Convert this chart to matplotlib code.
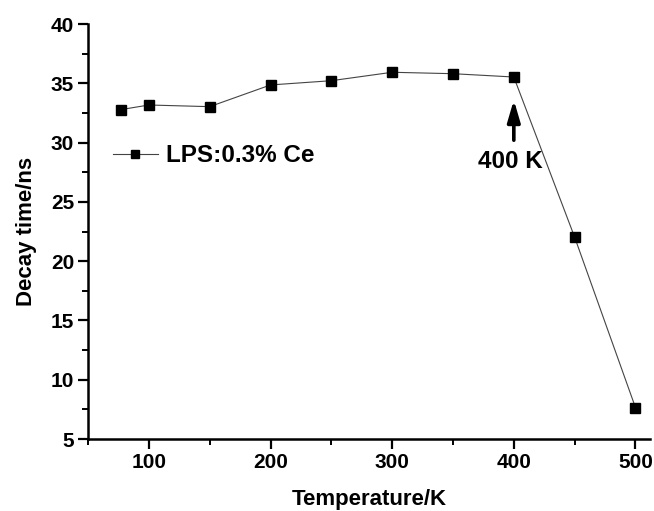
#decay time vs temperature for LPS:Ce
import numpy as np
import matplotlib.pyplot as plt
from matplotlib.ticker import MultipleLocator

plt.rcParams['font.family'] = ['Liberation Sans', 'DejaVu Sans']
plt.rcParams['font.weight'] = 'bold'

temp = [77, 100, 150, 200, 250, 300, 350, 400, 450, 500]  # K
decay = [32.78, 33.17, 33.03, 34.86, 35.22, 35.93, 35.81, 35.53, 22.02, 7.65]  # ns
label = 'LPS:0.3% Ce'
note = '400 K'

fig = plt.figure(figsize=(6.54, 5.11), dpi=100)
ax = fig.add_axes([0.1346, 0.1409, 0.8594, 0.8121])

ax.plot(temp, decay, color='#444444', linewidth=0.8, marker='s', markersize=7,
        markerfacecolor='black', markeredgecolor='black', label=label)

ax.set_xlim(50, 512)
ax.set_ylim(5, 40)
ax.xaxis.set_major_locator(MultipleLocator(100))
ax.xaxis.set_minor_locator(MultipleLocator(50))
ax.yaxis.set_major_locator(MultipleLocator(5))
ax.yaxis.set_minor_locator(MultipleLocator(2.5))

for s in ['top', 'right']:
    ax.spines[s].set_visible(False)
for s in ['left', 'bottom']:
    ax.spines[s].set_linewidth(1.8)

ax.tick_params(which='major', direction='out', length=7, width=1.6, labelsize=15, pad=3)
ax.tick_params(which='minor', direction='out', length=4, width=1.4)
for t in ax.get_xticklabels() + ax.get_yticklabels():
    t.set_fontweight('bold')

ax.set_xlabel('Temperature/K', fontsize=16, fontweight='bold', labelpad=12)
ax.set_ylabel('Decay time/ns', fontsize=16, fontweight='bold', labelpad=10)

# arrow pointing at the 400 K point
ax.annotate('', xy=(400, 33.6), xytext=(400, 30.2),
            arrowprops=dict(arrowstyle='-|>,head_width=0.38,head_length=1.3',
                            color='black', lw=2.6, shrinkA=0, shrinkB=0))
ax.text(397, 28.4, note, fontsize=17.5, fontweight='bold', ha='center', va='center')

leg = ax.legend(loc='center left', bbox_to_anchor=(0.044, 0.683), frameon=False,
                borderpad=0, borderaxespad=0, handlelength=1.85, handletextpad=0.35,
                markerscale=0.75, prop={'size': 17.5, 'weight': 'bold'})

fig.savefig('out.png', dpi=100)
